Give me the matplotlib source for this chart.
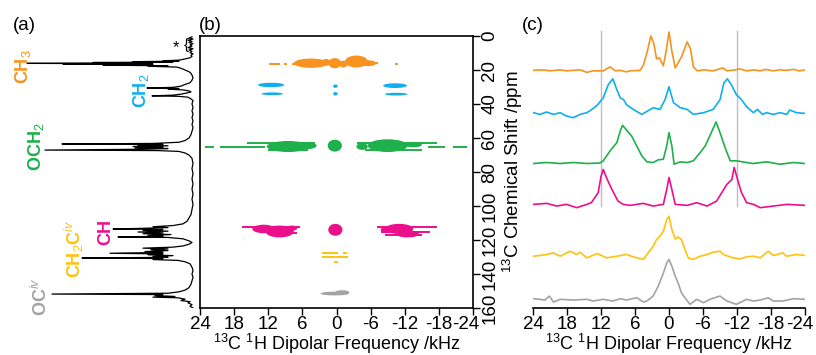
import matplotlib
matplotlib.use("Agg")
import matplotlib.pyplot as plt
import matplotlib.transforms as mtransforms
from matplotlib.patches import Ellipse

plt.rcParams["font.family"] = ["Liberation Sans", "DejaVu Sans"]
plt.rcParams["mathtext.fontset"] = "custom"
plt.rcParams["mathtext.rm"] = "Liberation Sans"
plt.rcParams["mathtext.it"] = "Liberation Sans:italic"
plt.rcParams["mathtext.bf"] = "Liberation Sans:bold"
plt.rcParams["axes.unicode_minus"] = False

ORANGE = "#F7931E"
BLUE = "#10AEEF"
GREEN = "#1DB04B"
PINK = "#EC0F8C"
YELLOW = "#FFC20E"
GRAY = "#A3A3A3"

FREQ_TICKS = [24, 18, 12, 6, 0, -6, -12, -18, -24]
PPM_TICKS = [0, 20, 40, 60, 80, 100, 120, 140, 160]
XLABEL = "$^{13}$C $^{1}$H Dipolar Frequency /kHz"

# (a) 1D 13C spectrum: chemical shift / intensity
a_ppm = [0.5, 1.2, 1.8, 2.5, 3.2, 3.8, 4.5, 5.2, 6.0, 6.8, 7.5, 8.2, 9.0, 9.8,
         10.5, 11.3, 12.0, 12.8,
         13.5, 14.2, 14.6, 14.8, 15.1, 15.3, 15.6, 15.8, 16.1, 16.3, 16.6, 16.8,
         17.2, 17.5, 17.8, 18.3, 19.0, 20.0, 21.0, 22.0, 23.0, 24.5, 26.0,
         27.5, 28.5, 29.5, 30.2, 30.6, 30.9, 31.3, 31.7, 32.3, 32.9, 33.5, 34.2,
         34.8, 35.2, 35.5, 36.0, 37.0, 38.0, 40, 42, 44, 46, 48, 50, 52, 54, 56,
         58, 60, 61.5,
         62.5, 63.2, 63.5, 63.8, 64.2, 64.6, 65.0, 65.4, 65.8, 66.2, 66.6, 67.1,
         67.4, 67.9, 68.8, 70, 72, 75, 78, 81, 84, 87, 90, 93, 96, 99, 102, 105,
         107, 109,
         110.5, 111.5, 112.2, 112.7, 113.2, 113.5, 113.8, 114.3, 114.8, 115.3,
         115.8, 116.3, 116.8, 117.3, 117.8, 118.2, 118.5, 119.3, 120.5, 121.5,
         122.5, 123.5,
         124.2, 124.8, 125.2, 125.7, 126.2, 126.8, 127.3, 127.8, 128.2, 128.7,
         129.2, 129.7, 130.2, 130.6, 130.9, 131.5, 132.0, 132.8, 134, 136, 138,
         140, 142, 144, 146, 148, 149.5,
         150.5, 151.3, 151.8, 152.1, 152.7, 153.2, 153.6, 154.0, 154.8, 155.6,
         156.3, 157, 158, 159, 160]
a_int = [1, 4, 0, 5, 1, 4, 0, 3, 1, 5, 0, 4, 1, 3,
         0, 2, 1, 3,
         8, 14, 30, 14, 60, 20, 100, 40, 166, 50, 130, 40,
         90, 25, 45, 16, 12, 8, 4, 2, 1, 0, 1,
         3, 8, 12, 20, 46, 14, 25, 10, 4, 2, 6, 12,
         20, 41, 14, 5, 2, 0, 1, 0, 1, 0, 1, 0, 1, 0, 1,
         2, 4, 8,
         14, 40, 131, 30, 55, 25, 60, 30, 58, 25, 50, 148,
         35, 14, 8, 4, 1, 0, 1, 0, 1, 0, 1, 0, 1, 0, 1, 2,
         4, 6,
         10, 20, 40, 25, 55, 80, 30, 50, 25, 55,
         30, 50, 22, 45, 30, 75, 25, 10, 4, 1,
         4, 10,
         20, 50, 25, 42, 25, 48, 30, 83, 30, 45,
         20, 40, 25, 111, 30, 40, 15, 8, 3, 1, 0,
         1, 0, 1, 2, 4, 8,
         14, 25, 141, 30, 38, 18, 40, 15, 8, 12,
         3, 5, 1, 3, 0]

# (b) 2D correlation features: streaks (ppm, kHz from, kHz to)
# and blobs (kHz, ppm, width kHz, height ppm)
ch3_streaks = [(16.5, 11.9, 9.9), (16.5, 9.2, 8.7), (16.5, 7.8, 4.0),
               (16.0, -4.0, -7.3), (16.5, -10.3, -10.8)]
ch3_blobs = [(4.5, 16.0, 6.0, 5.5), (1.8, 15.5, 1.5, 4.0), (0.3, 16.0, 2.2, 6.0),
             (-1.2, 16.5, 1.5, 4.0), (-3.5, 15.0, 4.0, 7.0), (-5.5, 16.0, 3.0, 3.5)]
ch2_streaks = []
ch2_blobs = [(11.5, 28.8, 4.6, 2.6), (11.3, 34.0, 3.8, 1.6), (0.2, 29.5, 0.8, 2.0),
             (0.2, 34.0, 0.8, 2.0), (-10.3, 29.2, 4.2, 2.8), (-10.5, 34.2, 4.0, 1.6)]
och2_streaks = [(65.5, 23.1, 21.5), (65.5, 20.5, 12.5), (65.5, -16.0, -19.0),
                (65.5, -20.5, -22.9), (63.0, 15.8, 3.8), (63.0, -3.6, -17.7),
                (67.0, 12.0, 5.0), (67.0, -5.0, -15.0)]
och2_blobs = [(8.5, 65.0, 7.5, 6.5), (5.0, 64.5, 3.0, 4.0), (0.3, 64.5, 2.5, 7.0),
              (-4.5, 65.0, 2.0, 4.0), (-9.0, 64.5, 7.0, 7.5), (-13.5, 64.0, 3.0, 3.0)]
ch_streaks = [(112.2, 16.6, 6.5), (112.2, -7.2, -17.7), (115.0, -7.8, -16.5),
              (117.0, -8.5, -15.0), (116.0, 7.8, 7.0)]
ch_blobs = [(12.8, 113.5, 4.0, 5.0), (10.0, 115.0, 5.0, 7.0), (7.8, 113.0, 1.8, 3.0),
            (0.2, 114.0, 2.5, 7.0), (-11.0, 113.5, 5.0, 6.0), (-12.5, 116.5, 4.0, 4.0),
            (-9.0, 114.0, 2.5, 4.0)]
ch2civ_streaks = [(127.6, 2.5, -0.3), (127.6, -1.1, -1.8), (130.0, 2.5, -2.0),
                  (133.0, 0.4, -0.2)]
ch2civ_blobs = []
ociv_streaks = []
ociv_blobs = [(0.3, 151.5, 5.0, 2.2), (-1.0, 150.8, 2.5, 2.5)]

# (c) dipolar slices: frequency (kHz) / intensity
ch3_f = [24, 22.2, 21.0, 19.2, 18.1, 16.9, 15.7, 14.5, 13.4, 11.6, 10.4, 9.5,
         8.6, 7.5, 6.9, 5.1, 4.5, 3.9, 3.2, 2.7, 2.2, 1.7, 1.0, 0.5, 0, -0.5,
         -1.1, -1.6, -2.2, -3.2, -3.8, -4.3, -5.0, -6.1, -7.8, -9.5, -10.2,
         -11.7, -12.5, -13.7, -15.0, -16.1, -17.0, -18.4, -19.5, -20.8, -22.0,
         -23.0, -24]
ch3_i = [0.5, 1, 0, 1, 0, 0.5, 1, -1.5, 0, 0, 4, 0,
         0.5, -1, 0, 0.5, 6, 18, 35, 28, 12, 13, 5, 20, 39, 20,
         3, 8, 14, 29, 22, 4, 0, 1, 0, 3, 0,
         1, 2, 0, 1, 0, 1.5, 0, 1, 0.5, 1.5,
         0, 1]
ch2_f = [23.9, 22.8, 21.6, 20.4, 19.2, 18.1, 16.9, 15.7, 14.5, 13.6, 12.7, 11.6,
         10.7, 9.9, 9.2, 8.6, 8.0, 7.5, 6.3, 4.8, 3.3, 2.8, 1.6, 0.7, 0, -0.8,
         -2.0, -3.2, -4.3, -6.1, -7.8, -9.0, -9.7, -10.3, -11.0, -11.9, -12.8,
         -13.7, -14.9, -15.6, -16.5, -17.2, -18.4, -19.6, -20.8, -21.3, -22.5, -24]
ch2_i = [0, -1.7, 0.7, -1.7, 0, -3.3, -5, -1.7, 0, 3.3, 7.3, 15,
         28.3, 34, 23, 15, 13, 8, 3.3, -1.7, 3.3, 5, 3.3, 13, 26, 10,
         5, 3.3, -1.7, 0, 3.3, 13, 30, 34, 28, 18, 13,
         6, 0, 3.3, -1.7, 0, -1.7, 0, -1.7, 2.7, 0, -0.7]
och2_f = [23.9, 21.6, 19.2, 16.9, 14.5, 12.2, 11.6, 10.4, 9.2, 8.6, 8.2, 7.5,
          6.6, 5.7, 4.8, 3.9, 2.8, 1.9, 1.0, 0.4, 0, -0.5, -0.9, -2.0, -3.2,
          -4.3, -5.5, -6.4, -7.2, -8.3, -9.0, -9.9, -10.8, -11.9, -13.7, -14.9,
          -17.2, -19.6, -22.0, -24]
och2_i = [0, 1, 0, 1, 0, 0.5, 2.7, 12.7, 21, 32.7, 38.3, 33.7,
          27.7, 17.7, 7.7, 1.7, 1, 3.7, 4.3, 17.7, 31, 17.7, -0.7, 1.7, 1,
          2.7, 11, 17.7, 27.7, 41.7, 31, 16, 2.7, 2.7, 1, 0,
          1.7, -0.7, 1, 0]
ch_f = [23.9, 21.6, 19.8, 18.1, 16.3, 14.5, 13.7, 12.5, 12.0, 11.6, 10.9, 9.9,
        9.0, 8.1, 6.9, 4.5, 2.8, 1.0, 0.4, 0, -0.5, -1.1, -3.2, -4.9, -6.7,
        -8.4, -9.3, -10.2, -11.1, -11.5, -12.2, -12.8, -13.7, -14.9, -16.1,
        -18.4, -20.8, -24]
ch_i = [0, 1, -1.7, 0, -3.3, 0, 1.7, 11.7, 28, 35, 25, 13,
        3.3, 0, -1, 1, -1.7, 0, 15, 27, 15, 0, -1, 1.7, -1.7,
        3.3, 11.7, 20, 25, 37, 23, 11.7, 1.7, 0, -3.3,
        -1.7, 0, -1]
ch2civ_f = [23.9, 22.8, 21.6, 20.4, 19.2, 17.5, 16.3, 15.7, 14.5, 12.7, 11.0,
            9.2, 7.5, 6.3, 4.5, 3.9, 2.8, 2.2, 1.6, 1.0, 0.4, 0, -0.5, -1.1,
            -1.6, -2.2, -2.8, -3.4, -4.3, -5.5, -6.7, -7.8, -9.0, -9.6, -11.3,
            -12.5, -13.7, -14.9, -16.1, -17.5, -18.4, -20.1, -20.7, -22.5, -24]
ch2civ_i = [0, 0.7, 1.7, 3.3, 0, 5, 1.7, 4, -1.7, 2.7, -1.7,
            0, 1.7, -0.7, -3.3, 1.7, 10, 16.7, 20, 25, 36.7, 40, 26.7, 17.3,
            19.3, 16.7, 6.7, -1.7, -3.3, 0, 1.7, 4, 5, 1.7, -1.7,
            -2.7, -0.7, 0, -1.7, 5, 0.7, 3.3, 0, 1.7, 0.7]
ociv_f = [23.9, 22.8, 21.9, 21.1, 20.4, 19.2, 16.9, 14.5, 13.4, 11.6, 9.9, 8.6,
          7.5, 5.7, 4.5, 3.9, 2.8, 1.9, 1.0, 0.4, 0, -0.5, -1.1, -1.6, -2.2,
          -2.8, -3.7, -4.9, -6.1, -7.2, -9.0, -10.2, -11.9, -13.7, -14.9,
          -16.1, -17.5, -18.4, -20.1, -21.9, -24]
ociv_i = [1.3, 0.7, 0, 4, -2, 0.7, 0, 0.7, -1, 0.7, -1, 1.3,
          0, 2.3, -2, -1, 4, 14, 27, 37, 40.7, 34, 24, 17.3, 7.3,
          2.3, -4.3, 0.7, -2.7, 0.7, 4, -1, -4.3, 0.7, -1,
          0, 2.3, -1, -1, 1.3, 0.7]

groups = [
    (ORANGE, ch3_streaks, ch3_blobs, ch3_f, ch3_i),
    (BLUE, ch2_streaks, ch2_blobs, ch2_f, ch2_i),
    (GREEN, och2_streaks, och2_blobs, och2_f, och2_i),
    (PINK, ch_streaks, ch_blobs, ch_f, ch_i),
    (YELLOW, ch2civ_streaks, ch2civ_blobs, ch2civ_f, ch2civ_i),
    (GRAY, ociv_streaks, ociv_blobs, ociv_f, ociv_i),
]
slice_offsets = [238, 196, 145, 104, 52, 8]

W, H = 816, 355
fig = plt.figure(figsize=(W / 100, H / 100), dpi=100)


def nudge_last_xlabel(ax, dx_px):
    """Shift the right-most x tick label sideways (it sits on the corner)."""
    lbl = ax.get_xticklabels()[-1]
    lbl.set_transform(lbl.get_transform() + mtransforms.ScaledTranslation(
        dx_px / 100, 0, fig.dpi_scale_trans))


# ---- (a) 1D spectrum
ax_a = fig.add_axes([0, 47 / H, 200 / W, 272 / H])
ax_a.plot(a_int, a_ppm, color="black", lw=0.9)
ax_a.set_xlim(193, -7)
ax_a.set_ylim(160, 0)
ax_a.axis("off")
labels = [
    ("CH$_3$", ORANGE, 170, 18),
    ("CH$_2$", BLUE, 52, 32),
    ("OCH$_2$", GREEN, 157, 65),
    ("CH", PINK, 87, 115),
    ("CH$_2$C$^{iv}$", YELLOW, 119, 125),
    ("OC$^{iv}$", GRAY, 152, 153),
]
for text, col, x, y in labels:
    ax_a.text(x, y, text, color=col, rotation=90, ha="center", va="center",
              fontsize=13, fontweight="bold")
ax_a.text(17, 7, "*", fontsize=12, ha="center", va="center")
ax_a.text(7, 5, "{", fontsize=11, ha="center", va="center")

# ---- (b) 2D map
ax_b = fig.add_axes([200 / W, 47 / H, 273 / W, 272 / H])
for col, streaks, blobs, _, _ in groups:
    for ppm, f1, f2 in streaks:
        ax_b.plot([f1, f2], [ppm, ppm], color=col, lw=1.4, solid_capstyle="butt")
    for f, ppm, w, h in blobs:
        ax_b.add_patch(Ellipse((f, ppm), w, h, color=col, lw=0))
ax_b.set_xlim(24, -24)
ax_b.set_ylim(160, 0)
ax_b.set_xticks(FREQ_TICKS)
ax_b.set_yticks(PPM_TICKS)
ax_b.yaxis.tick_right()
ax_b.yaxis.set_label_position("right")
ax_b.tick_params(direction="out", length=5, width=1, labelsize=13.5, pad=1)
for lbl in ax_b.get_yticklabels():
    lbl.set_rotation(90)
    lbl.set_va("center")
nudge_last_xlabel(ax_b, -7)
ax_b.set_xlabel(XLABEL, fontsize=13, labelpad=-1)
ax_b.set_ylabel("$^{13}$C Chemical Shift /ppm", fontsize=13.5, labelpad=2)
for sp in ax_b.spines.values():
    sp.set_linewidth(1.2)

# ---- (c) slices
ax_c = fig.add_axes([533 / W, 47 / H, 272 / W, 279 / H])
for f0 in (12, -12):
    ax_c.plot([f0, f0], [102, 278], color="#BDBDBD", lw=1.0, zorder=1)
for (col, _, _, fs, ints), off in zip(groups, slice_offsets):
    ax_c.plot(fs, [v + off for v in ints], color=col, lw=1.2, zorder=2)
ax_c.set_xlim(24, -24)
ax_c.set_ylim(0, 280)
ax_c.set_xticks(FREQ_TICKS)
ax_c.set_yticks([])
for side in ("left", "right", "top"):
    ax_c.spines[side].set_visible(False)
ax_c.spines["bottom"].set_linewidth(1.2)
ax_c.tick_params(direction="out", length=5, width=1, labelsize=13.5, pad=1)
nudge_last_xlabel(ax_c, -5)
ax_c.set_xlabel(XLABEL, fontsize=13, labelpad=-1)

fig.text(24 / W, 1 - 25 / H, "(a)", fontsize=13.5, ha="center", va="center")
fig.text(210 / W, 1 - 25 / H, "(b)", fontsize=13.5, ha="center", va="center")
fig.text(533 / W, 1 - 25 / H, "(c)", fontsize=13.5, ha="center", va="center")

fig.savefig("out.png", dpi=100)
